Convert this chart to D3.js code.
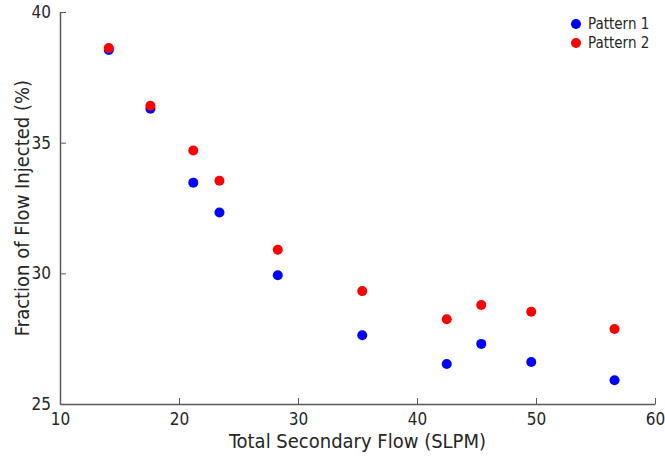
<!DOCTYPE html>
<html>
<head>
<meta charset="utf-8">
<script src="https://cdn.jsdelivr.net/npm/d3@7"></script>
<style>
  body { margin: 0; background: #fff; }
  text { font-family: "DejaVu Sans Condensed", "DejaVu Sans", sans-serif; font-stretch: condensed; fill: #262626; }
  .axis path, .axis line { stroke: #595959; }
</style>
</head>
<body>
<div id="chart"></div>
<script>
var w = 665, h = 458;
var margin = { left: 60, right: 10, top: 12, bottom: 54 };

var flow = [14.1, 17.6, 21.2, 23.4, 28.3, 35.4, 42.5, 45.4, 49.6, 56.6];
var pattern1 = [38.55, 36.3, 33.47, 32.33, 29.93, 27.63, 26.53, 27.3, 26.61, 25.91];
var pattern2 = [38.62, 36.41, 34.7, 33.54, 30.9, 29.32, 28.24, 28.79, 28.53, 27.87];
var seriesNames = ["Pattern 1", "Pattern 2"];
var seriesColors = ["#0000ff", "#ff0000"];
var xTicks = [10, 20, 30, 40, 50, 60];
var yTicks = [25, 30, 35, 40];

var svg = d3.select("#chart").append("svg")
  .attr("width", w)
  .attr("height", h);

var xScale = d3.scaleLinear()
  .domain([10, 60])
  .range([margin.left, w - margin.right]);

var yScale = d3.scaleLinear()
  .domain([25, 40])
  .range([h - margin.bottom, margin.top]);

var xAxis = d3.axisBottom(xScale).tickValues(xTicks).tickSizeInner(-6).tickSizeOuter(0).tickPadding(9);
var yAxis = d3.axisLeft(yScale).tickValues(yTicks).tickSizeInner(-6).tickSizeOuter(0).tickPadding(9);

svg.append("g")
  .attr("class", "x axis")
  .attr("transform", "translate(0," + (h - margin.bottom) + ")")
  .call(xAxis);

svg.append("g")
  .attr("class", "y axis")
  .attr("transform", "translate(" + margin.left + ",0)")
  .call(yAxis);

svg.selectAll(".axis text")
  .style("font-size", "17px")
  .style("fill", "#262626");
svg.selectAll(".axis path").attr("stroke-width", 1.5);

svg.append("text")
  .attr("x", (margin.left + w - margin.right) / 2)
  .attr("y", h - 10)
  .attr("text-anchor", "middle")
  .style("font-size", "20px")
  .text("Total Secondary Flow (SLPM)");

svg.append("text")
  .attr("transform", "translate(29," + ((margin.top + h - margin.bottom) / 2) + ") rotate(-90)")
  .attr("text-anchor", "middle")
  .style("font-size", "20px")
  .text("Fraction of Flow Injected (%)");

var series = [pattern1, pattern2];
series.forEach(function(vals, s) {
  svg.append("g").selectAll("circle")
    .data(vals)
    .enter()
    .append("circle")
    .attr("cx", function(d, i) { return xScale(flow[i]); })
    .attr("cy", function(d) { return yScale(d); })
    .attr("r", 5)
    .attr("fill", seriesColors[s]);
});

var legend = svg.append("g").attr("transform", "translate(576,24)");
seriesNames.forEach(function(name, i) {
  legend.append("circle")
    .attr("cx", 0)
    .attr("cy", i * 19)
    .attr("r", 5)
    .attr("fill", seriesColors[i]);
  legend.append("text")
    .attr("x", 12)
    .attr("y", i * 19 + 5)
    .style("font-size", "15px")
    .text(name);
});
</script>
</body>
</html>
